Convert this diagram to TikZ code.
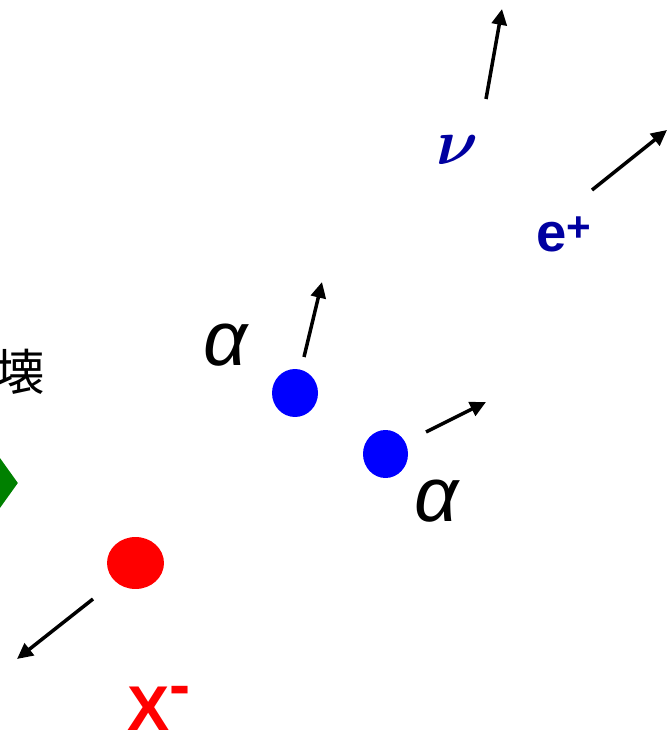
\RequirePackage{fix-cm}
\documentclass[tikz,border=0pt]{standalone}
\usepackage{fontspec}
\setmainfont{Liberation Sans}
\newfontfamily\jpfont{Noto Sans CJK JP}
\usetikzlibrary{shapes.geometric, arrows.meta, positioning}
\definecolor{alphablue}{RGB}{0,0,255}
\definecolor{leptonblue}{RGB}{0,0,160}
\definecolor{xred}{RGB}{255,0,0}
\definecolor{nucgreen}{RGB}{0,128,0}

\begin{document}
\begin{tikzpicture}[
    x=0.02cm, y=-0.02cm,
    particle/.style={ellipse, inner sep=0pt, minimum width=0.92cm, minimum height=0.96cm},
    tag/.style={inner sep=0pt},
    momentum/.style={-{Triangle[length=9pt, width=8.5pt]}, line width=2pt, black}
]
% Frame (the picture is cut at the left and bottom)
\useasboundingbox (0,0) rectangle (668,732);
\clip (0,0) rectangle (668,732);

% Nucleus and decay label
\node[diamond, fill=nucgreen, inner sep=0pt, minimum width=1.32cm, minimum height=1.84cm] (nucleus) at (-15,483) {};
\node[tag, anchor=east, font=\jpfont\fontsize{28}{30}\selectfont] (decay) at (45,372) {崩壊};

% Decay products
\node[particle, fill=xred, minimum width=1.14cm, minimum height=1.04cm] (xminus) at (135.5,563) {};
\node[particle, fill=alphablue] (alphaA) at (295,393) {};
\node[particle, fill=alphablue, minimum width=0.9cm] (alphaB) at (385.5,454) {};

% Labels
\node[tag, font=\itshape\fontsize{44}{48}\selectfont] (alphaA_l) at (226,345) {α};
\node[tag, font=\itshape\fontsize{44}{48}\selectfont] (alphaB_l) at (437,501) {α};
\node[tag, text=leptonblue, font=\boldmath\fontsize{37}{42}\selectfont] (nu_l) at (457,150) {$\nu$};
\node[tag, anchor=base west, text=leptonblue, font=\bfseries\fontsize{31}{34}\selectfont] (pos_l) at (536,252)
  {e\raisebox{6pt}{\fontsize{24}{26}\selectfont +}};
\node[tag, anchor=base west, text=xred, font=\bfseries\fontsize{36}{40}\selectfont] (xminus_l) at (127,730)
  {X\raisebox{13.4pt}{-}};

% Momentum arrows
\coordinate (xminus_s) at (93,599);   \coordinate (xminus_e) at (17,659);
\coordinate (alphaA_s) at (304,357);  \coordinate (alphaA_e) at (322,282);
\coordinate (alphaB_s) at (426,432);  \coordinate (alphaB_e) at (486,402);
\coordinate (nu_s) at (486,99);       \coordinate (nu_e) at (502,9);
\coordinate (pos_s) at (592,190);     \coordinate (pos_e) at (667,130);
\draw[momentum] (xminus_s) -- (xminus_e);
\draw[momentum] (alphaA_s) -- (alphaA_e);
\draw[momentum] (alphaB_s) -- (alphaB_e);
\draw[momentum] (nu_s) -- (nu_e);
\draw[momentum] (pos_s) -- (pos_e);
\end{tikzpicture}
\end{document}
